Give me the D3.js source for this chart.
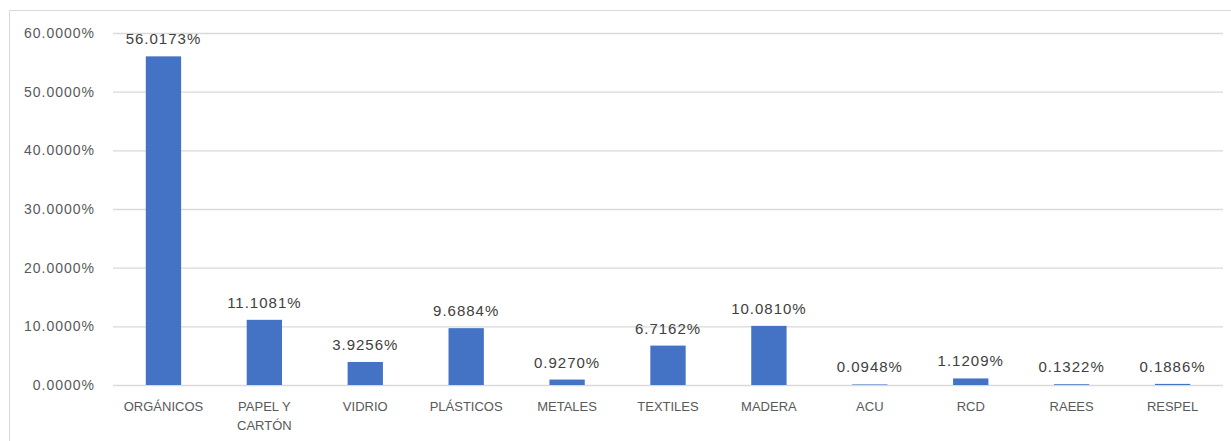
<!DOCTYPE html>
<html>
<head>
<meta charset="utf-8">
<script src="https://cdn.jsdelivr.net/npm/d3@7"></script>
<style>
  body { margin: 0; background: #fff; }
  text { font-family: "Liberation Sans", Arial, sans-serif; }
</style>
</head>
<body>
<div id="chart"></div>
<script>
const categories = ["ORGÁNICOS", "PAPEL Y CARTÓN", "VIDRIO", "PLÁSTICOS", "METALES", "TEXTILES", "MADERA", "ACU", "RCD", "RAEES", "RESPEL"];
const values = [56.0173, 11.1081, 3.9256, 9.6884, 0.9270, 6.7162, 10.0810, 0.0948, 1.1209, 0.1322, 0.1886];
const yTicks = [0, 10, 20, 30, 40, 50, 60];

const width = 1231, height = 441;
const margin = { left: 113, right: 8, top: 33, bottom: 56 };

const svg = d3.select("#chart").append("svg")
    .attr("width", width)
    .attr("height", height);

// cadre du graphique
svg.append("path")
    .attr("d", `M9.5,${height} V10.5 H${width}`)
    .attr("fill", "none")
    .attr("stroke", "#d9d9d9");

const x = d3.scaleBand()
    .domain(categories)
    .range([margin.left, width - margin.right])
    .paddingInner(0.65)
    .paddingOuter(0.325);

const y = d3.scaleLinear()
    .domain([0, 60])
    .range([height - margin.bottom, margin.top]);

// grille + étiquettes de l'axe Y
const yAxis = svg.append("g")
    .attr("transform", `translate(${margin.left},0)`)
    .call(d3.axisLeft(y).tickValues(yTicks)
        .tickSize(-(width - margin.left - margin.right))
        .tickPadding(18)
        .tickFormat(d => d.toFixed(4) + "%"));
yAxis.select(".domain").remove();
yAxis.selectAll(".tick line").attr("stroke", "#d9d9d9").attr("stroke-width", 1.3);
yAxis.selectAll(".tick text")
    .attr("fill", "#595959")
    .style("font-size", "14px")
    .style("letter-spacing", "1px");

// barres
svg.selectAll("rect.bar")
    .data(values)
    .join("rect")
    .attr("class", "bar")
    .attr("x", (d, i) => x(categories[i]))
    .attr("width", x.bandwidth())
    .attr("y", d => y(d))
    .attr("height", d => y(0) - y(d))
    .attr("fill", "#4472c4");

// étiquettes de valeur
svg.selectAll("text.val")
    .data(values)
    .join("text")
    .attr("class", "val")
    .attr("x", (d, i) => x(categories[i]) + x.bandwidth() / 2)
    .attr("y", d => y(d) - 12)
    .attr("text-anchor", "middle")
    .attr("fill", "#404040")
    .style("font-size", "15px")
    .style("letter-spacing", "1px")
    .text(d => d.toFixed(4) + "%");

// étiquettes des catégories (retour à la ligne pour PAPEL Y CARTÓN)
const catLines = { "PAPEL Y CARTÓN": ["PAPEL Y", "CARTÓN"] };
categories.forEach(c => {
    const lines = catLines[c] || [c];
    const t = svg.append("text")
        .attr("x", x(c) + x.bandwidth() / 2)
        .attr("y", y(0) + 26)
        .attr("text-anchor", "middle")
        .attr("fill", "#595959")
        .style("font-size", "13px");
    lines.forEach((l, k) => {
        t.append("tspan")
            .attr("x", x(c) + x.bandwidth() / 2)
            .attr("dy", k === 0 ? 0 : 19)
            .text(l);
    });
});
</script>
</body>
</html>
